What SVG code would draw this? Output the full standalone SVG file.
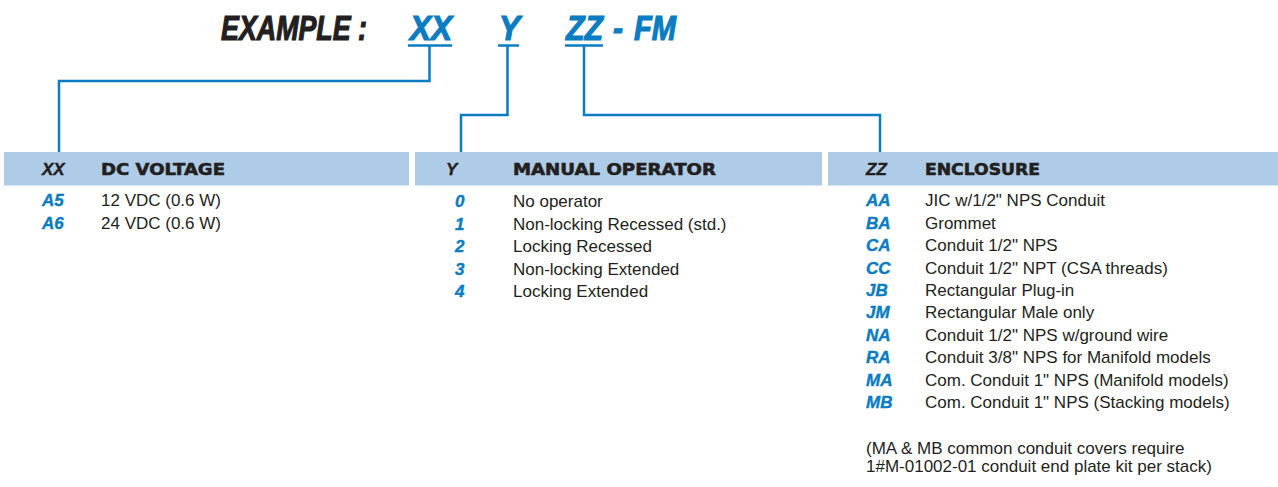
<svg xmlns="http://www.w3.org/2000/svg" width="1278" height="487" viewBox="0 0 1278 487">
<style>
.bar{fill:#aecbe7}
.ln{fill:none;stroke:#0a7cc2;stroke-width:2.5}
.t{font-family:"Liberation Sans",Arial,sans-serif;font-size:17px;fill:#231f20}
.c{font-family:"Liberation Sans",Arial,sans-serif;font-size:17px;font-weight:bold;font-style:italic;fill:#0a7cc2;stroke:#0a7cc2;stroke-width:0.4}
.hc{font-family:"Liberation Sans",Arial,sans-serif;font-size:17px;font-weight:bold;font-style:italic;fill:#231f20;stroke:#231f20;stroke-width:0.4}
.h{font-family:"DejaVu Sans",sans-serif;font-size:16.5px;font-weight:bold;fill:#231f20;stroke:#231f20;stroke-width:0.6}
.ti{font-family:"Liberation Sans",Arial,sans-serif;font-size:35px;font-weight:bold;font-style:italic;stroke-width:1.2}
.k{fill:#231f20;stroke:#231f20}
.b{fill:#0a7cc2;stroke:#0a7cc2}
</style>
<rect width="1278" height="487" fill="#ffffff"/>
<g id="title">
<text class="ti k" x="221" y="40" textLength="146" lengthAdjust="spacingAndGlyphs">EXAMPLE :</text>
<text class="ti b" x="410" y="40" textLength="42" lengthAdjust="spacingAndGlyphs">XX</text>
<text class="ti b" x="499" y="40" textLength="21" lengthAdjust="spacingAndGlyphs">Y</text>
<text class="ti b" x="566" y="40" textLength="37" lengthAdjust="spacingAndGlyphs">ZZ</text>
<text class="ti b" x="613" y="40" textLength="10" lengthAdjust="spacingAndGlyphs">-</text>
<text class="ti b" x="634" y="40" textLength="42" lengthAdjust="spacingAndGlyphs">FM</text>
</g>
<g id="connectors">
<line class="ln" x1="408" y1="45.5" x2="452" y2="45.5"/>
<polyline class="ln" points="429.5,45.5 429.5,81 59,81 59,152"/>
<line class="ln" x1="498" y1="45.5" x2="519" y2="45.5"/>
<polyline class="ln" points="507.5,45.5 507.5,115 461,115 461,152"/>
<line class="ln" x1="565" y1="45.5" x2="603" y2="45.5"/>
<polyline class="ln" points="584,45.5 584,115 880,115 880,152"/>
</g>
<g id="voltage">
<rect class="bar" x="4" y="152" width="405" height="33.5"/>
<text class="hc" x="42" y="175">XX</text>
<text class="h" x="101" y="175" textLength="124" lengthAdjust="spacingAndGlyphs">DC VOLTAGE</text>
<text class="c" x="42" y="206">A5</text><text class="t" x="101" y="206">12 VDC (0.6 W)</text>
<text class="c" x="42" y="229">A6</text><text class="t" x="101" y="229">24 VDC (0.6 W)</text>
</g>
<g id="operator">
<rect class="bar" x="415" y="152" width="407" height="33.5"/>
<text class="hc" x="446" y="175">Y</text>
<text class="h" x="513" y="175" textLength="203" lengthAdjust="spacingAndGlyphs">MANUAL OPERATOR</text>
<text class="c" x="455" y="207">0</text><text class="t" x="513" y="207">No operator</text>
<text class="c" x="455" y="229.5">1</text><text class="t" x="513" y="229.5">Non-locking Recessed (std.)</text>
<text class="c" x="455" y="252">2</text><text class="t" x="513" y="252">Locking Recessed</text>
<text class="c" x="455" y="274.5">3</text><text class="t" x="513" y="274.5">Non-locking Extended</text>
<text class="c" x="455" y="297">4</text><text class="t" x="513" y="297">Locking Extended</text>
</g>
<g id="enclosure">
<rect class="bar" x="828" y="152" width="450" height="33.5"/>
<text class="hc" x="866" y="175">ZZ</text>
<text class="h" x="925" y="175" textLength="115" lengthAdjust="spacingAndGlyphs">ENCLOSURE</text>
<text class="c" x="866" y="206">AA</text><text class="t" x="925" y="206">JIC w/1/2" NPS Conduit</text>
<text class="c" x="866" y="228.5">BA</text><text class="t" x="925" y="228.5">Grommet</text>
<text class="c" x="866" y="251">CA</text><text class="t" x="925" y="251">Conduit 1/2" NPS</text>
<text class="c" x="866" y="273.5">CC</text><text class="t" x="925" y="273.5">Conduit 1/2" NPT (CSA threads)</text>
<text class="c" x="866" y="296">JB</text><text class="t" x="925" y="296">Rectangular Plug-in</text>
<text class="c" x="866" y="318">JM</text><text class="t" x="925" y="318">Rectangular Male only</text>
<text class="c" x="866" y="340.5">NA</text><text class="t" x="925" y="340.5">Conduit 1/2" NPS w/ground wire</text>
<text class="c" x="866" y="363">RA</text><text class="t" x="925" y="363">Conduit 3/8" NPS for Manifold models</text>
<text class="c" x="866" y="385.5">MA</text><text class="t" x="925" y="385.5">Com. Conduit 1" NPS (Manifold models)</text>
<text class="c" x="866" y="408">MB</text><text class="t" x="925" y="408">Com. Conduit 1" NPS (Stacking models)</text>
<text class="t" x="866" y="454">(MA &amp; MB common conduit covers require</text>
<text class="t" x="866" y="472">1#M-01002-01 conduit end plate kit per stack)</text>
</g>
</svg>
